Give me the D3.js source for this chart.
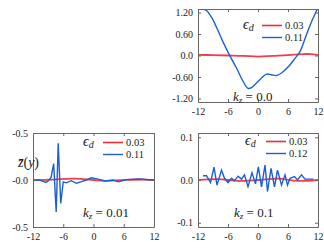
<!DOCTYPE html>
<html><head><meta charset="utf-8">
<script src="https://cdn.jsdelivr.net/npm/d3@7"></script>
<style>
html,body{margin:0;padding:0;background:#fff;}
svg{display:block;}
svg text{font-family:"Liberation Serif","Times New Roman","DejaVu Serif",serif !important;}
</style></head>
<body><svg id="c" width="324" height="251"></svg>
<script>
// ---- data ----
const xTicks = [-12, -6, 0, 6, 12];
const xTickLabels = ["-12", "-6", "0", "6", "12"];

// panel A: kz = 0.0
const kzA = "0.0";
const legendA = ["0.03", "0.11"];
const yTicksA = [1.2, 0.6, 0, -0.6, -1.2];
const yTickLabelsA = ["1.20", "0.60", "0.0", "-0.60", "-1.20"];
const redA_x = [-12, -9, -6, -3, 0, 3, 6, 9, 10.5, 12];
const redA_y = [0.02, 0.01, 0.0, -0.01, -0.03, -0.01, 0.01, 0.04, 0.04, 0.02];
const blueA_x = [-11.6, -11, -10.3, -9.3, -8.3, -7, -5.7, -4.3, -3, -2, -1.3, -0.3, 0.7, 1.7, 2.7, 3.7, 4.7, 6.1, 7.4, 8.4, 9.4, 10.4, 11.4, 11.9];
const blueA_y = [1.32, 1.30, 1.26, 1.07, 0.79, 0.38, 0.01, -0.35, -0.72, -0.92, -0.90, -0.77, -0.63, -0.52, -0.54, -0.56, -0.49, -0.31, -0.08, 0.11, 0.47, 0.84, 1.16, 1.30];

// panel B: kz = 0.01
const kzB = "0.01";
const legendB = ["0.03", "0.11"];
const yTicksB = [0.5, 0, -0.5];
const yTickLabelsB = ["-0.5", "-0.0", "-0.5"];
const redB_x = [-12, -8, -4, 0, 2, 6, 10, 12];
const redB_y = [-0.005, 0.005, 0.015, 0.0, -0.01, 0.0, 0.005, 0.0];
const blueB_x = [-12, -10.7, -9.4, -8.8, -8.4, -7.9, -7.4, -7.0, -6.5, -6.0, -5.4, -4.4, -3.4, -2.4, -1.4, -0.4, 0.9, 2.3, 3.9, 4.9, 6.6, 8.9, 11.8, 12];
const blueB_y = [0, 0, -0.025, 0.0, 0.03, 0.175, -0.34, 0.39, -0.25, -0.02, -0.03, -0.007, -0.035, -0.018, 0, 0.024, 0.01, -0.01, 0, -0.02, 0.004, 0.01, 0, 0];

// panel C: kz = 0.1
const kzC = "0.1";
const legendC = ["0.03", "0.12"];
const yTicksC = [0.1, 0, -0.1];
const yTickLabelsC = ["0.1", "0.0", "-0.1"];
const redC_x = [-12, -8, -4, 0, 4, 8, 12];
const redC_y = [0, 0.002, -0.002, 0.0, 0.003, -0.002, 0];
const blueC_x = [-11, -10.3, -9.5, -8.8, -8.2, -7.3, -6.7, -6, -5.3, -4.7, -4, -3.3, -2.7, -2, -1.2, -0.5, 0.07, 0.7, 1.4, 1.9, 2.6, 3.3, 3.9, 4.7, 5.4, 5.9, 6.4, 7.3, 7.9, 8.7, 9.4, 10.4, 11.1];
const blueC_y = [0.01, 0.01, -0.006, 0.03, -0.012, 0.023, 0.004, -0.006, 0.004, -0.002, 0.009, 0.002, 0.012, -0.016, 0.017, -0.009, 0.031, -0.016, 0.035, -0.027, 0.027, -0.016, 0.023, -0.012, 0.012, -0.012, 0.004, 0.008, 0, 0.012, 0.002, 0.002, 0.002];

// ---- drawing ----
const RED = "#ee2a35", BLUE = "#1c5fd4", FRAME = "#666";
const svg = d3.select("#c");
const zip = (xs, ys) => xs.map((x, i) => [x, ys[i]]);

const panels = [
  {id: "A", x0: 198, x1: 318, y0: 9, y1: 102, dom: [-1.3, 1.3], yt: yTicksA, ytl: yTickLabelsA,
   red: zip(redA_x, redA_y), blue: zip(blueA_x, blueA_y), smooth: true, kz: kzA, leg: legendA,
   legX: 243, legY: 29, lineX: 262, kzX: 233, kzY: 101},
  {id: "B", x0: 33, x1: 154, y0: 133, y1: 227, dom: [-0.5, 0.5], yt: yTicksB, ytl: yTickLabelsB,
   red: zip(redB_x, redB_y), blue: zip(blueB_x, blueB_y), smooth: false, kz: kzB, leg: legendB,
   legX: 83, legY: 146, lineX: 103, kzX: 83, kzY: 217},
  {id: "C", x0: 198, x1: 318, y0: 133, y1: 227, dom: [-0.11, 0.11], yt: yTicksC, ytl: yTickLabelsC,
   red: zip(redC_x, redC_y), blue: zip(blueC_x, blueC_y), smooth: false, kz: kzC, leg: legendC,
   legX: 245, legY: 145, lineX: 266, kzX: 234, kzY: 217}
];

panels.forEach(p => {
  const x = d3.scaleLinear().domain([-12, 12]).range([p.x0, p.x1]);
  const y = d3.scaleLinear().domain(p.dom).range([p.y1, p.y0]);
  const g = svg.append("g");
  g.append("clipPath").attr("id", "clip" + p.id).append("rect")
    .attr("x", p.x0).attr("y", p.y0).attr("width", p.x1 - p.x0).attr("height", p.y1 - p.y0);

  const lineS = d3.line().x(d => x(d[0])).y(d => y(d[1])).curve(d3.curveCatmullRom.alpha(0.5));
  const lineL = d3.line().x(d => x(d[0])).y(d => y(d[1]));
  const data = g.append("g").attr("clip-path", `url(#clip${p.id})`);
  data.append("path").attr("d", lineS(p.red)).attr("fill", "none").attr("stroke", RED).attr("stroke-width", 1.8).attr("stroke-opacity", 0.9);
  data.append("path").attr("d", (p.smooth ? lineS : lineL)(p.blue)).attr("fill", "none").attr("stroke", BLUE).attr("stroke-width", 1.4);

  // axes
  const ax = (gen, tx, ty, lab) => {
    const a = g.append("g").attr("transform", `translate(${tx},${ty})`).call(gen);
    a.attr("font-family", null);
    a.select(".domain").attr("stroke", FRAME).attr("stroke-width", 1);
    a.selectAll(".tick line").attr("stroke", FRAME);
    a.selectAll("text").attr("font-size", 10).attr("fill", "#222");
    if (!lab) a.selectAll("text").remove();
    return a;
  };
  ax(d3.axisBottom(x).tickValues(xTicks).tickFormat((d, i) => xTickLabels[i]).tickSizeInner(-3).tickSizeOuter(0).tickPadding(6), 0, p.y1, true);
  ax(d3.axisTop(x).tickValues(xTicks).tickSizeInner(-3).tickSizeOuter(0), 0, p.y0, false);
  ax(d3.axisLeft(y).tickValues(p.yt).tickFormat((d, i) => p.ytl[i]).tickSizeInner(-3).tickSizeOuter(0).tickPadding(5), p.x0, 0, true);
  ax(d3.axisRight(y).tickValues(p.yt).tickSizeInner(-3).tickSizeOuter(0), p.x1, 0, false);

  // legend
  const lg = g.append("g");
  const eps = lg.append("text").attr("x", p.legX).attr("y", p.legY).attr("font-size", 14).attr("font-style", "italic").attr("fill", "#222");
  eps.append("tspan").text("ϵ");
  eps.append("tspan").attr("font-size", 10).attr("dy", 2).text("d");
  [[RED, p.leg[0], 0], [BLUE, p.leg[1], 12]].forEach(([c, t, dy]) => {
    lg.append("line").attr("x1", p.lineX).attr("x2", p.lineX + 20).attr("y1", p.legY - 3.5 + dy).attr("y2", p.legY - 3.5 + dy)
      .attr("stroke", c).attr("stroke-width", c === RED ? 1.6 : 1.4);
    lg.append("text").attr("x", p.lineX + 23).attr("y", p.legY + dy).attr("font-size", 10.5).attr("fill", "#222").text(t);
  });

  // kz label
  const kt = g.append("text").attr("x", p.kzX).attr("y", p.kzY).attr("font-size", 13).attr("fill", "#222");
  kt.append("tspan").attr("font-style", "italic").text("k");
  kt.append("tspan").attr("font-style", "italic").attr("font-size", 9).attr("dy", 2).text("z");
  kt.append("tspan").attr("dy", -2).text(" = " + p.kz);
});

// y label for lower-left panel
const yl = svg.append("text").attr("x", 18).attr("y", 167)
  .attr("font-size", 14).attr("fill", "#222");
yl.append("tspan").attr("font-style", "italic").text("z\u0304");
yl.append("tspan").text("(");
yl.append("tspan").attr("font-style", "italic").text("y");
yl.append("tspan").text(")");
</script></body></html>
